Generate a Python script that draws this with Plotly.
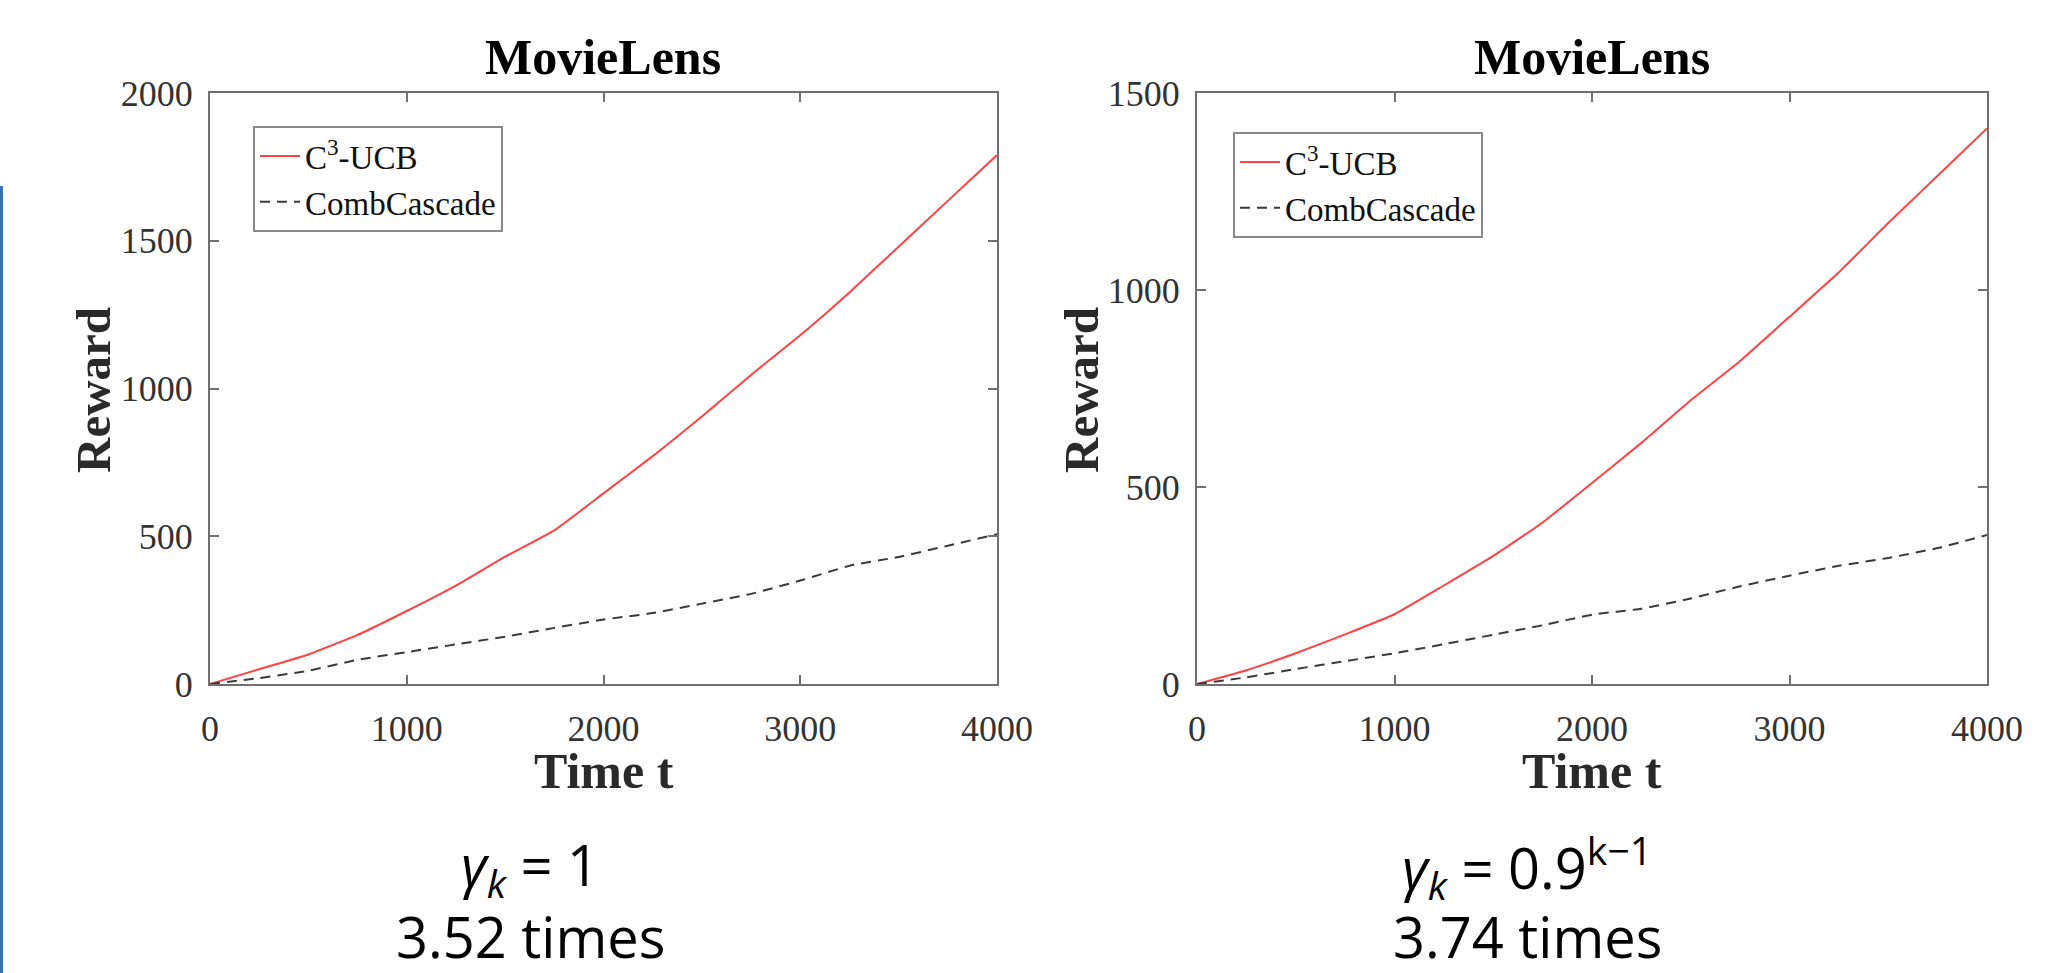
import plotly.graph_objects as go

# ---------------- data ----------------
time_t = [0, 250, 500, 750, 1000, 1250, 1500, 1750, 2000, 2250, 2500, 2750, 3000, 3250, 3500, 3750, 4000]

c3ucb_left = [0, 50, 100, 166, 247, 333, 431, 520, 645, 771, 905, 1046, 1180, 1325, 1480, 1635, 1790]
comb_left = [0, 20, 45, 82, 108, 134, 160, 190, 218, 240, 272, 305, 350, 400, 430, 468, 507]

c3ucb_right = [0, 35, 78, 126, 177, 250, 325, 410, 510, 612, 720, 820, 932, 1045, 1170, 1290, 1410]
comb_right = [0, 17, 38, 58, 78, 101, 125, 149, 176, 191, 217, 248, 275, 300, 320, 345, 378]

series_names = ["C<sup>3</sup>-UCB", "CombCascade"]
panel_titles = ["MovieLens", "MovieLens"]
left_yticks = [0, 500, 1000, 1500, 2000]
right_yticks = [0, 500, 1000, 1500]
xticks = [0, 1000, 2000, 3000, 4000]
captions_left = ["<i>γ</i><sub><i>k</i></sub> = 1", "3.52 times"]
captions_right = ["<i>γ</i><sub><i>k</i></sub> = 0.9<sup>k−1</sup>", "3.74 times"]

W, H = 2068, 973
RED = "#FF4242"
DARK = "#3a3a3a"
SERIF = "Liberation Serif"

fig = go.Figure()

red_line = dict(color=RED, width=2, shape="spline", smoothing=0.4)
dash_line = dict(color=DARK, width=2, dash="10px,7px", shape="spline", smoothing=0.4)

fig.add_trace(go.Scatter(x=time_t, y=c3ucb_left, mode="lines", name=series_names[0],
                         line=red_line, xaxis="x", yaxis="y", legend="legend"))
fig.add_trace(go.Scatter(x=time_t, y=comb_left, mode="lines", name=series_names[1],
                         line=dash_line, xaxis="x", yaxis="y", legend="legend"))
fig.add_trace(go.Scatter(x=time_t, y=c3ucb_right, mode="lines", name=series_names[0],
                         line=red_line, xaxis="x2", yaxis="y2", legend="legend2"))
fig.add_trace(go.Scatter(x=time_t, y=comb_right, mode="lines", name=series_names[1],
                         line=dash_line, xaxis="x2", yaxis="y2", legend="legend2"))

y_dom = [1 - 684 / H, 1 - 93 / H]
xl_dom = [210 / W, 997 / W]
xr_dom = [1197 / W, 1987 / W]

axis_common = dict(showline=True, linecolor="#707070", linewidth=2, mirror="ticks",
                   ticks="inside", ticklen=9, tickwidth=1.5, tickcolor="#707070",
                   showgrid=False, zeroline=False, automargin=False,
                   tickfont=dict(family=SERIF, size=36, color="#333333"))

legend_common = dict(xanchor="left", yanchor="top",
                     bordercolor="#8a8a8a", borderwidth=2, bgcolor="white",
                     font=dict(family=SERIF, size=33, color="#111"), itemwidth=40,
                     tracegroupgap=0)

fig.update_layout(
    template="none",
    width=W, height=H, autosize=False,
    margin=dict(l=0, r=0, t=0, b=0, pad=0, autoexpand=False),
    paper_bgcolor="white", plot_bgcolor="white",
    xaxis=dict(domain=xl_dom, range=[0, 4000], tickvals=xticks, anchor="y",
               ticklabelstandoff=12, **axis_common),
    yaxis=dict(domain=y_dom, range=[0, 2000], tickvals=left_yticks, anchor="x",
               ticklabelstandoff=8, **axis_common),
    xaxis2=dict(domain=xr_dom, range=[0, 4000], tickvals=xticks, anchor="y2",
                ticklabelstandoff=12, **axis_common),
    yaxis2=dict(domain=y_dom, range=[0, 1500], tickvals=right_yticks, anchor="x2",
                ticklabelstandoff=8, **axis_common),
    legend=dict(x=253 / W, y=1 - 126 / H, **legend_common),
    legend2=dict(x=1233 / W, y=1 - 132 / H, **legend_common),
    showlegend=True,
)

annotations = []
for cx, title in zip([603, 1592], panel_titles):
    annotations.append(dict(x=cx / W, y=1 - 57 / H, xref="paper", yref="paper",
                            text="<b>" + title + "</b>", showarrow=False,
                            font=dict(family=SERIF, size=50, color="black"),
                            xanchor="center", yanchor="middle"))
for cx in [604, 1592]:
    annotations.append(dict(x=cx / W, y=1 - 771 / H, xref="paper", yref="paper",
                            text="<b>Time t</b>", showarrow=False,
                            font=dict(family=SERIF, size=50, color="#2a2a2a"),
                            xanchor="center", yanchor="middle"))
for cx in [93, 1081]:
    annotations.append(dict(x=cx / W, y=1 - 390 / H, xref="paper", yref="paper",
                            text="<b>Reward</b>", showarrow=False, textangle=-90,
                            font=dict(family=SERIF, size=49, color="#2a2a2a"),
                            xanchor="center", yanchor="middle"))
for cx, caps in [(530, captions_left), (1527, captions_right)]:
    annotations.append(dict(x=cx / W, y=1 - 867 / H, xref="paper", yref="paper",
                            text=caps[0], showarrow=False,
                            font=dict(family="Open Sans", size=56, color="black"),
                            xanchor="center", yanchor="middle"))
    annotations.append(dict(x=cx / W, y=1 - 936 / H, xref="paper", yref="paper",
                            text=caps[1], showarrow=False,
                            font=dict(family="Open Sans", size=56, color="black"),
                            xanchor="center", yanchor="middle"))
fig.update_layout(annotations=annotations)

fig.add_shape(type="line", xref="paper", yref="paper",
              x0=1.5 / W, x1=1.5 / W, y0=0, y1=1 - 186 / H,
              line=dict(color="#3B72B4", width=3))

fig.write_html("out.html")
